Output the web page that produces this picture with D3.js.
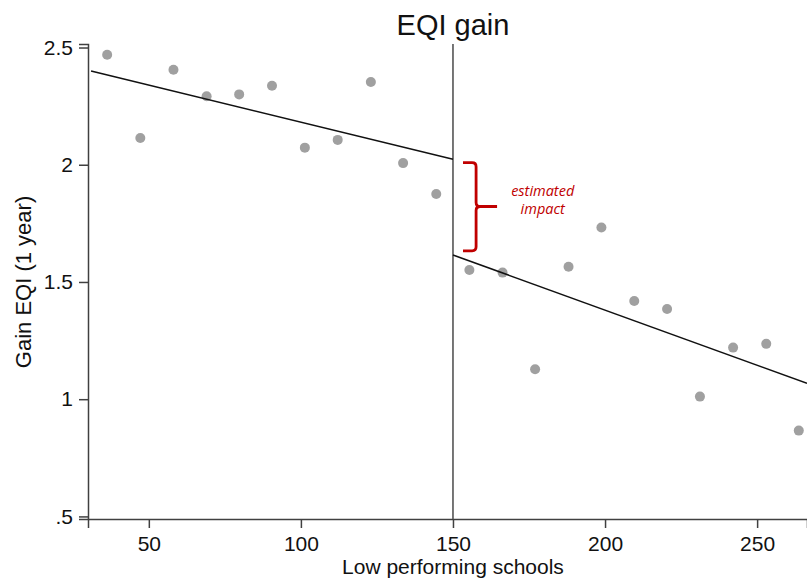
<!DOCTYPE html>
<html>
<head>
<meta charset="utf-8">
<script src="https://cdn.jsdelivr.net/npm/d3@7"></script>
<style>
  body { margin: 0; background: #fff; }
  svg { display: block; font-family: "Liberation Sans", Arial, sans-serif; }
</style>
</head>
<body>
<div id="chart"></div>
<script>
// binned means, left of cutoff
const leftX = [36.3, 47.2, 58.1, 69.0, 79.7, 90.5, 101.3, 112.1, 123.0, 133.6, 144.5];
const leftY = [2.469, 2.114, 2.405, 2.292, 2.300, 2.337, 2.073, 2.106, 2.353, 2.007, 1.875];
// binned means, right of cutoff
const rightX = [155.4, 166.3, 177.0, 188.0, 198.8, 209.6, 220.4, 231.2, 242.1, 253.0, 263.7];
const rightY = [1.551, 1.540, 1.128, 1.565, 1.732, 1.419, 1.385, 1.011, 1.220, 1.236, 0.866];
// fitted lines (endpoints)
const fitLeftX = [31, 150];
const fitLeftY = [2.40, 2.023];
const fitRightX = [150, 266.4];
const fitRightY = [1.615, 1.068];
const cutoff = 150;
const impactTop = 2.009, impactMid = 1.822, impactBottom = 1.633;
const xTicks = [50, 100, 150, 200, 250];
const yTicks = [0.5, 1, 1.5, 2, 2.5];

const width = 807, height = 579;
const margin = {top: 44, right: 0, bottom: 60, left: 88};

const svg = d3.select("#chart").append("svg")
    .attr("width", width)
    .attr("height", height);

const x = d3.scaleLinear()
    .domain([30, 266.4])
    .range([margin.left, width - margin.right]);
const y = d3.scaleLinear()
    .domain([0.489, 2.515])
    .range([height - margin.bottom, margin.top]);

const axisColor = "#404040";

// y axis
const yAxis = svg.append("g")
    .attr("transform", `translate(${margin.left},0)`)
    .call(d3.axisLeft(y).tickValues(yTicks).tickSize(9).tickPadding(6)
        .tickFormat(d => d === 0.5 ? ".5" : String(d)));
yAxis.selectAll("path, line").attr("stroke", axisColor).attr("stroke-width", 1.5);
yAxis.selectAll("text").attr("font-size", 21).attr("fill", "#111")
    .attr("font-family", "Liberation Sans, Arial, sans-serif");

// x axis
const xAxis = svg.append("g")
    .attr("transform", `translate(0,${height - margin.bottom})`)
    .call(d3.axisBottom(x).tickValues(xTicks).tickSize(9).tickPadding(8));
xAxis.selectAll("path, line").attr("stroke", axisColor).attr("stroke-width", 1.5);
xAxis.selectAll("text").attr("font-size", 21).attr("fill", "#111")
    .attr("font-family", "Liberation Sans, Arial, sans-serif");

// cutoff line
svg.append("line")
    .attr("x1", x(cutoff)).attr("x2", x(cutoff))
    .attr("y1", y.range()[1]).attr("y2", y.range()[0])
    .attr("stroke", "#555").attr("stroke-width", 1.6);

// points
const pts = leftX.map((v, i) => [v, leftY[i]])
    .concat(rightX.map((v, i) => [v, rightY[i]]));
svg.append("g").selectAll("circle")
    .data(pts)
    .join("circle")
    .attr("cx", d => x(d[0]))
    .attr("cy", d => y(d[1]))
    .attr("r", 5)
    .attr("fill", "#a0a0a0");

// fit lines
const line = d3.line().x(d => x(d[0])).y(d => y(d[1]));
[[fitLeftX, fitLeftY], [fitRightX, fitRightY]].forEach(([fx, fy]) => {
    svg.append("path")
        .attr("d", line(fx.map((v, i) => [v, fy[i]])))
        .attr("fill", "none")
        .attr("stroke", "#111")
        .attr("stroke-width", 1.5);
});

// bracket for estimated impact
const red = "#c00000";
const bx0 = x(153.3), bx1 = x(157.6), btip = x(164.5);
const yt = y(impactTop), ym = y(impactMid), yb = y(impactBottom);
const r = 4;
const bp = d3.path();
bp.moveTo(bx0, yt);
bp.lineTo(bx1 - r, yt);
bp.quadraticCurveTo(bx1, yt, bx1, yt + r);
bp.lineTo(bx1, ym - r);
bp.quadraticCurveTo(bx1, ym, bx1 + r, ym);
bp.lineTo(btip, ym);
bp.moveTo(bx1 + r, ym);
bp.quadraticCurveTo(bx1, ym, bx1, ym + r);
bp.lineTo(bx1, yb - r);
bp.quadraticCurveTo(bx1, yb, bx1 - r, yb);
bp.lineTo(bx0, yb);
svg.append("path")
    .attr("d", bp.toString())
    .attr("fill", "none")
    .attr("stroke", red)
    .attr("stroke-width", 2.8);

const note = svg.append("text")
    .attr("x", x(179.5))
    .attr("y", ym - 10)
    .attr("text-anchor", "middle")
    .attr("font-family", "Open Sans, sans-serif")
    .attr("font-style", "italic")
    .attr("font-size", 14.5)
    .attr("fill", red);
note.append("tspan").attr("x", x(179.5)).attr("dy", 0).text("estimated");
note.append("tspan").attr("x", x(179.5)).attr("dy", 17.5).text("impact");

// title
svg.append("text")
    .attr("x", x(cutoff))
    .attr("y", 35)
    .attr("text-anchor", "middle")
    .attr("font-size", 29)
    .attr("fill", "#111")
    .text("EQI gain");

// axis titles
svg.append("text")
    .attr("x", x(cutoff))
    .attr("y", 574)
    .attr("text-anchor", "middle")
    .attr("font-size", 21)
    .attr("fill", "#111")
    .text("Low performing schools");

svg.append("text")
    .attr("transform", `translate(31,${(y(0.5) + y(2.5)) / 2}) rotate(-90)`)
    .attr("text-anchor", "middle")
    .attr("font-size", 22)
    .attr("fill", "#111")
    .text("Gain EQI (1 year)");
</script>
</body>
</html>
